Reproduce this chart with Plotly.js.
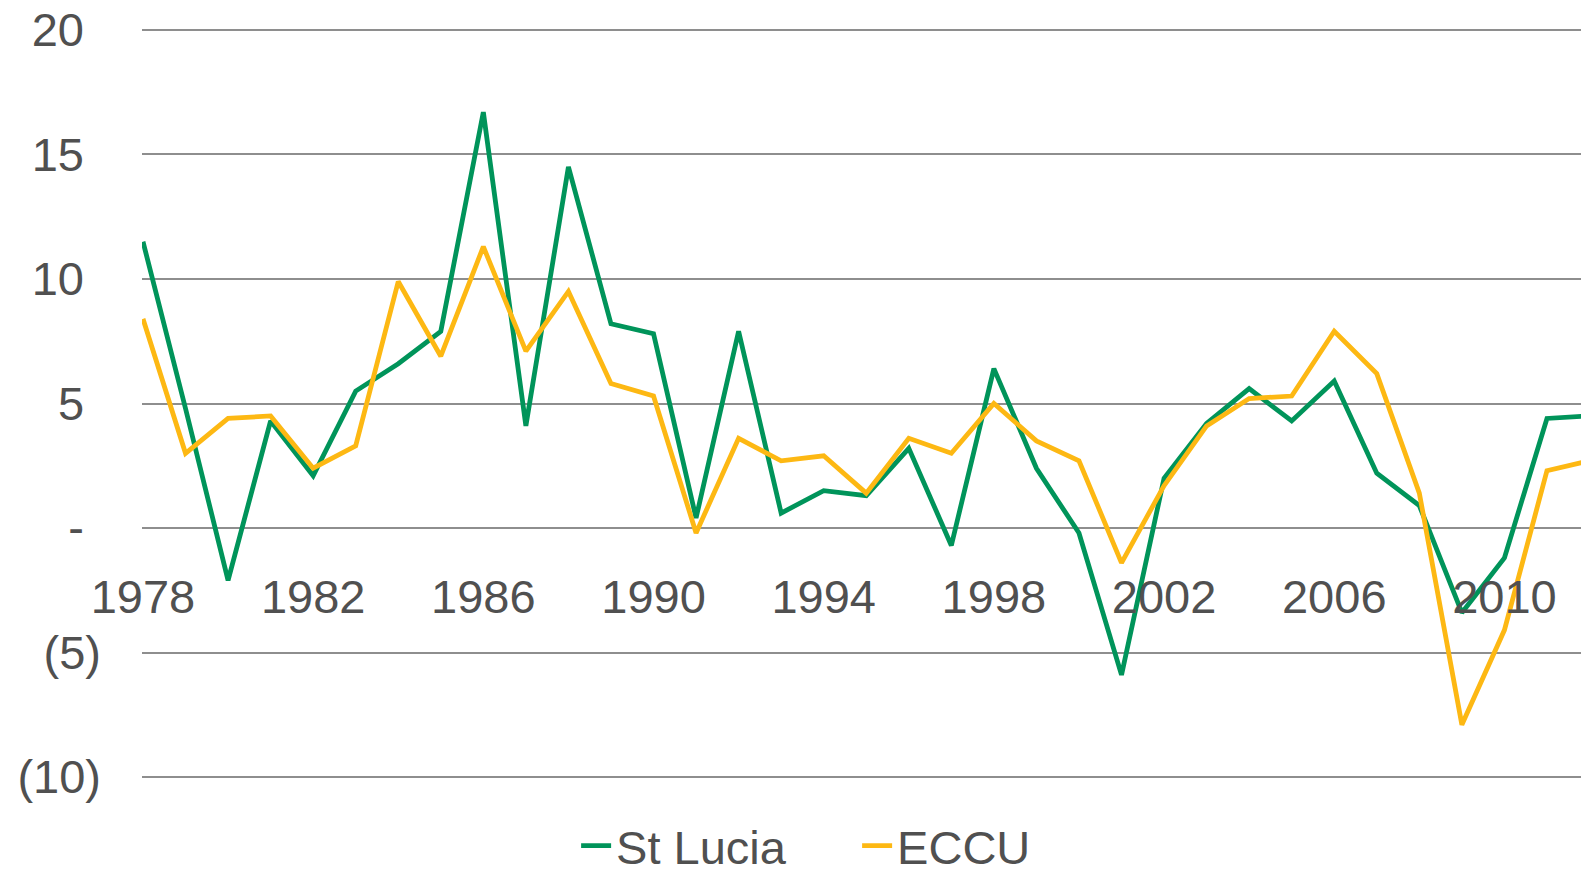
<!DOCTYPE html>
<html>
<head>
<meta charset="utf-8">
<script src="https://cdn.plot.ly/plotly-3.0.1.min.js"></script>
<style>
  html, body { margin: 0; padding: 0; background: #ffffff; }
  #chart { width: 1581px; height: 875px; }
</style>
</head>
<body>
<div id="chart"></div>
<script>
// Data
const years = [1978,1979,1980,1981,1982,1983,1984,1985,1986,1987,1988,1989,1990,1991,1992,1993,1994,1995,1996,1997,1998,1999,2000,2001,2002,2003,2004,2005,2006,2007,2008,2009,2010,2011,2012];
const stLucia = [11.5,4.8,-2.1,4.3,2.1,5.5,6.6,7.9,16.7,4.1,14.5,8.2,7.8,0.4,7.9,0.6,1.5,1.3,3.2,-0.7,6.4,2.4,-0.2,-5.9,2.0,4.2,5.6,4.3,5.9,2.2,0.9,-3.4,-1.2,4.4,4.5];
const eccu = [8.4,3.0,4.4,4.5,2.4,3.3,9.9,6.9,11.3,7.1,9.5,5.8,5.3,-0.2,3.6,2.7,2.9,1.4,3.6,3.0,5.0,3.5,2.7,-1.4,1.7,4.1,5.2,5.3,7.9,6.2,1.4,-7.9,-4.1,2.3,2.7];
const seriesNames = ["St Lucia", "ECCU"];
const yTickVals = [20, 15, 10, 5, 0, -5, -10];
const yTickLabels = ["20", "15", "10", "5", "-", "(5)", "(10)"];

const FONT = "Arial, 'Liberation Sans', sans-serif";
const TXT = "#505050";
const FS = 47;

// accounting-style alignment: non-negative labels get a trailing pad about the width of ")"
const PAD = "\u00a0\u200a";
const yTickText = yTickLabels.map(function (t, i) { return yTickVals[i] >= 0 ? t + PAD : t; });

const yMin = -10.2, yMax = 20.2;
const zeroPos = (0 - yMin) / (yMax - yMin);

const traces = [
  { x: years, y: stLucia, name: seriesNames[0], type: "scatter", mode: "lines",
    line: { color: "#00945a", width: 4.8 } },
  { x: years, y: eccu, name: seriesNames[1], type: "scatter", mode: "lines",
    line: { color: "#fdb813", width: 4.8 } }
];

const layout = {
  width: 1581, height: 875,
  margin: { l: 141.7, r: 0, t: 24.5, b: 93.2 },
  paper_bgcolor: "#ffffff", plot_bgcolor: "#ffffff",
  showlegend: true,
  legend: {
    orientation: "h", xref: "container", yref: "container",
    x: 0.3644, xanchor: "left", y: 0.033, yanchor: "middle",
    font: { family: FONT, size: FS, color: TXT },
    entrywidth: 236, entrywidthmode: "pixels",
    itemwidth: 30, tracegroupgap: 0
  },
  xaxis: {
    range: [1977.977, 2011.80],
    tick0: 1978, dtick: 4, tickmode: "linear",
    showgrid: false, zeroline: false, showline: false,
    ticks: "", anchor: "free", position: zeroPos,
    ticklabelstandoff: 37,
    tickfont: { family: FONT, size: FS, color: TXT },
    fixedrange: true
  },
  yaxis: {
    range: [yMin, yMax],
    tickmode: "array", tickvals: yTickVals, ticktext: yTickText,
    showgrid: true, gridcolor: "#8e8e8e", gridwidth: 2,
    zeroline: true, zerolinecolor: "#8e8e8e", zerolinewidth: 2,
    showline: false, ticks: "",
    ticklabelstandoff: 40,
    tickfont: { family: FONT, size: FS, color: TXT },
    fixedrange: true
  }
};

Plotly.newPlot("chart", traces, layout, { staticPlot: true, displayModeBar: false });
</script>
</body>
</html>
